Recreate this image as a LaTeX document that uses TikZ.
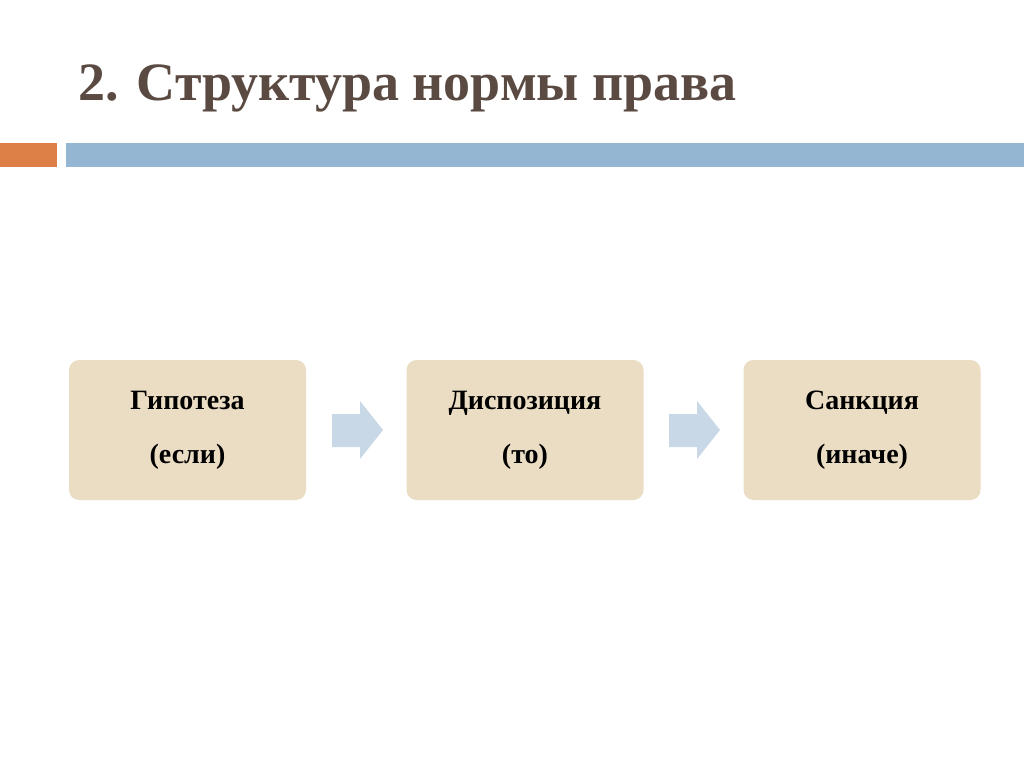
\documentclass[tikz,border=0pt]{standalone}
\usepackage{fontspec}
\setmainfont{Liberation Serif}
\definecolor{titlec}{HTML}{5A4A42}
\definecolor{orangec}{HTML}{DD8047}
\definecolor{bluec}{HTML}{94B6D2}
\definecolor{boxc}{HTML}{EBDDC3}
\definecolor{arrowc}{HTML}{C9D8E6}
\tikzset{
  stepbox/.style={fill=boxc, rounded corners=10pt, minimum width=237pt, minimum height=140pt, inner sep=0pt, align=center, font=\fontsize{28}{54}\selectfont\bfseries, text=black},
  chev/.style={fill=arrowc, draw=none}
}
\begin{document}
\begin{tikzpicture}[x=1pt,y=-1pt]
\useasboundingbox (0,0) rectangle (1024,767);
\fill[white] (0,0) rectangle (1024,767);
\node[anchor=base west, text=titlec, font=\fontsize{54}{60}\selectfont\bfseries, inner sep=0pt] (title) at (78,101) {2. Структура нормы права};
\fill[orangec] (0,143) rectangle (57,167);
\fill[bluec] (66,143) rectangle (1024,167);
\node[stepbox] (b1) at (187.5,430) {Гипотеза\\(если)};
\node[stepbox] (b2) at (525,430) {Диспозиция\\(то)};
\node[stepbox] (b3) at (862,430) {Санкция\\(иначе)};
\foreach \x in {332,669}{
  \fill[chev] (\x,414) -- (\x+28,414) -- (\x+28,401) -- (\x+51,430) -- (\x+28,459) -- (\x+28,447) -- (\x,447) -- cycle;
}
\end{tikzpicture}
\end{document}
